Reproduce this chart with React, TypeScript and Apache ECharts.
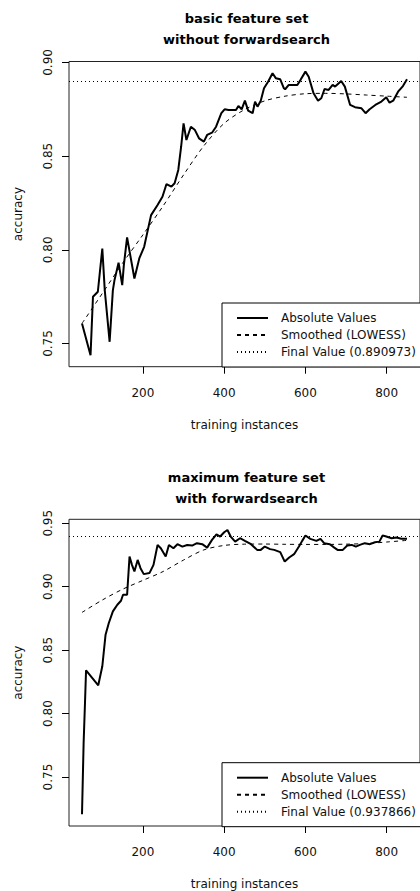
import React, { useEffect, useRef } from 'react';
import * as echarts from 'echarts';

const FONT = 'DejaVu Sans';
const TITLE_TOP = ['basic feature set', 'without forwardsearch'];
const TITLE_BOTTOM = ['maximum feature set', 'with forwardsearch'];
const X_NAME = 'training instances';
const Y_NAME = 'accuracy';
const X_TICKS = [200, 400, 600, 800];
const Y_TICKS_TOP = [0.75, 0.8, 0.85, 0.9];
const Y_TICKS_BOTTOM = [0.75, 0.8, 0.85, 0.9, 0.95];

// top panel: basic feature set without forwardsearch
const TOP_X = [50, 71, 77, 89, 100, 106, 118, 126, 130, 140, 145, 149, 153, 161, 179, 191, 203, 220, 236, 248, 258, 270, 278, 287, 294, 300, 307, 318, 328, 338, 350, 358, 370, 380, 393, 401, 411, 429, 435, 443, 451, 459, 470, 476, 482, 490, 498, 508, 519, 527, 538, 547, 550, 559, 580, 588, 600, 608, 620, 631, 639, 647, 657, 667, 673, 680, 688, 697, 710, 722, 738, 748, 758, 772, 787, 799, 807, 816, 828, 840, 850];
const TOP_Y = [0.7607, 0.7437, 0.7749, 0.7776, 0.8007, 0.7785, 0.7509, 0.7785, 0.7838, 0.7931, 0.7865, 0.7811, 0.7918, 0.8066, 0.7847, 0.7954, 0.8016, 0.8185, 0.8239, 0.8283, 0.8351, 0.8337, 0.8355, 0.8426, 0.855, 0.8675, 0.8586, 0.8657, 0.8639, 0.8595, 0.8577, 0.8613, 0.8625, 0.8657, 0.8729, 0.875, 0.8746, 0.8746, 0.8768, 0.875, 0.8796, 0.8743, 0.8729, 0.8791, 0.8764, 0.8796, 0.8862, 0.8897, 0.8942, 0.8916, 0.891, 0.8862, 0.8857, 0.888, 0.888, 0.8907, 0.8951, 0.8924, 0.8835, 0.8796, 0.8809, 0.8858, 0.8853, 0.888, 0.8871, 0.8885, 0.8901, 0.8871, 0.8773, 0.8761, 0.8755, 0.8729, 0.875, 0.8773, 0.8791, 0.8814, 0.8785, 0.8796, 0.8844, 0.8874, 0.890973];
const SMOOTH_X = [50, 100, 150, 200, 250, 300, 350, 400, 450, 500, 550, 600, 650, 700, 750, 800, 850];
const TOP_SMOOTH_Y = [0.7607, 0.7767, 0.7929, 0.808, 0.8235, 0.84, 0.8555, 0.8675, 0.8748, 0.8795, 0.882, 0.8833, 0.8835, 0.8832, 0.8826, 0.882, 0.8814];
const TOP_FINAL = 0.890973;

// bottom panel: maximum feature set with forwardsearch
const BOT_X = [50, 54, 57, 60, 90, 100, 108, 116, 126, 137, 146, 151, 161, 167, 173, 179, 187, 194, 202, 216, 226, 236, 244, 256, 264, 275, 285, 297, 309, 321, 333, 346, 358, 370, 381, 390, 400, 408, 416, 427, 439, 451, 466, 481, 490, 500, 513, 523, 538, 549, 560, 572, 584, 592, 600, 612, 627, 637, 646, 660, 671, 679, 692, 703, 714, 724, 734, 746, 759, 771, 782, 790, 799, 812, 824, 836, 850];
const BOT_Y = [0.7207, 0.777, 0.805, 0.8341, 0.8223, 0.8373, 0.8622, 0.8714, 0.8805, 0.8858, 0.8889, 0.8936, 0.8936, 0.9237, 0.9172, 0.912, 0.9211, 0.9146, 0.9099, 0.9107, 0.9172, 0.9329, 0.9303, 0.9237, 0.9329, 0.9303, 0.9335, 0.9316, 0.9329, 0.9324, 0.9343, 0.9335, 0.9308, 0.9369, 0.9413, 0.9395, 0.9429, 0.9447, 0.9395, 0.9355, 0.9382, 0.9361, 0.9335, 0.929, 0.929, 0.9316, 0.9296, 0.929, 0.9272, 0.9198, 0.923, 0.9256, 0.9316, 0.9361, 0.9403, 0.9377, 0.9361, 0.9377, 0.9343, 0.9335, 0.9308, 0.929, 0.929, 0.9324, 0.9329, 0.9316, 0.9329, 0.9343, 0.9335, 0.935, 0.9355, 0.9403, 0.9395, 0.9382, 0.9387, 0.9377, 0.937866];
const BOT_SMOOTH_Y = [0.8797, 0.8895, 0.898, 0.905, 0.912, 0.921, 0.929, 0.9325, 0.9335, 0.9336, 0.9334, 0.9333, 0.9333, 0.9335, 0.934, 0.9352, 0.9365];
const BOT_FINAL = 0.937866;

const X_RANGE = [18, 882];
const Y_RANGE_TOP = [0.7376, 0.9005];
const Y_RANGE_BOTTOM = [0.7114, 0.9531];

const NAME_ABS = 'Absolute Values';
const NAME_SMOOTH = 'Smoothed (LOWESS)';
const finalName = (v: number) => `Final Value (${v})`;

const zip = (xs: number[], ys: number[]) => xs.map((x, i) => [x, ys[i]]);

export default function App() {
  const ref = useRef<HTMLDivElement>(null);
  useEffect(() => {
    const chart = echarts.init(ref.current!, null, { renderer: 'svg' });
    const grids = [
      { left: 69, top: 61.5, width: 355, height: 305.2 },
      { left: 69, top: 519.3, width: 355, height: 307.4 },
    ];
    const xAxis = [0, 1].map((i) => ({
      type: 'value',
      gridIndex: i,
      min: X_RANGE[0],
      max: X_RANGE[1],
      axisLine: { show: false },
      splitLine: { show: false },
      axisTick: { show: true, length: 7, customValues: X_TICKS, lineStyle: { color: '#000', width: 1 } },
      axisLabel: { customValues: X_TICKS, margin: 20, fontFamily: FONT, fontSize: 12, color: '#111' },
      name: X_NAME,
      nameLocation: 'middle',
      nameGap: 52,
      nameTextStyle: { fontFamily: FONT, fontSize: 12, color: '#111' },
    }));
    const yAxis = [
      [Y_RANGE_TOP, Y_TICKS_TOP],
      [Y_RANGE_BOTTOM, Y_TICKS_BOTTOM],
    ].map(([range, ticks], i) => ({
      type: 'value',
      gridIndex: i,
      min: range[0],
      max: range[1],
      axisLine: { show: false },
      splitLine: { show: false },
      axisTick: { show: true, length: 7, customValues: ticks, lineStyle: { color: '#000', width: 1 } },
      axisLabel: {
        customValues: ticks,
        rotate: 90,
        margin: 15,
        formatter: (v: number) => v.toFixed(2),
        fontFamily: FONT,
        fontSize: 12,
        color: '#111',
      },
      name: Y_NAME,
      nameLocation: 'middle',
      nameGap: 45,
      nameTextStyle: { fontFamily: FONT, fontSize: 12, color: '#111' },
    }));
    const panels = [
      { x: TOP_X, y: TOP_Y, s: TOP_SMOOTH_Y, f: TOP_FINAL },
      { x: BOT_X, y: BOT_Y, s: BOT_SMOOTH_Y, f: BOT_FINAL },
    ];
    const series: any[] = [];
    panels.forEach((p, i) => {
      series.push({
        type: 'line',
        name: NAME_ABS,
        xAxisIndex: i,
        yAxisIndex: i,
        data: zip(p.x, p.y),
        symbol: 'none',
        lineStyle: { color: '#000', width: 2 },
        itemStyle: { color: '#000' },
      });
      series.push({
        type: 'line',
        name: NAME_SMOOTH,
        xAxisIndex: i,
        yAxisIndex: i,
        data: zip(SMOOTH_X, p.s),
        symbol: 'none',
        smooth: 0.3,
        lineStyle: { color: '#000', width: 1, type: [4, 4] },
        itemStyle: { color: '#000' },
      });
      series.push({
        type: 'line',
        name: finalName(p.f),
        xAxisIndex: i,
        yAxisIndex: i,
        data: [],
        symbol: 'none',
        lineStyle: { color: '#000', width: 1, type: [1, 3] },
        itemStyle: { color: '#000' },
        markLine: {
          silent: true,
          symbol: ['none', 'none'],
          label: { show: false },
          lineStyle: { color: '#000', width: 1, type: [1, 3] },
          data: [{ yAxis: p.f }],
        },
      });
    });
    const legendBase = {
      orient: 'vertical',
      left: 222,
      itemWidth: 31,
      itemHeight: 12,
      itemGap: 5,
      padding: [9, 24, 9, 14],
      borderColor: '#000',
      borderWidth: 1,
      borderRadius: 0,
      backgroundColor: '#fff',
      itemStyle: { opacity: 0 },
      textStyle: { fontFamily: FONT, fontSize: 12, color: '#111', padding: [0, 0, 0, 8] },
      selectedMode: false,
    };
    const legend = [
      { ...legendBase, top: 303, data: [NAME_ABS, NAME_SMOOTH, finalName(TOP_FINAL)] },
      { ...legendBase, top: 762.7, data: [NAME_ABS, NAME_SMOOTH, finalName(BOT_FINAL)] },
    ];
    const titleFont = `bold 13px "${FONT}"`;
    const titleText = (text: string, y: number) => ({
      type: 'text',
      x: 246.5,
      y,
      style: { text, font: titleFont, fill: '#000', align: 'center', verticalAlign: 'middle' },
    });
    chart.setOption({
      animation: false,
      backgroundColor: '#fff',
      grid: grids.map((g) => ({ ...g, show: true, borderColor: '#222', borderWidth: 1, backgroundColor: 'transparent' })),
      xAxis,
      yAxis,
      series,
      legend,
      graphic: [
        titleText(TITLE_TOP[0], 18),
        titleText(TITLE_TOP[1], 39),
        titleText(TITLE_BOTTOM[0], 477.3),
        titleText(TITLE_BOTTOM[1], 498.3),
      ],
    });
    return () => chart.dispose();
  }, []);
  return <div ref={ref} style={{ position: 'absolute', left: 0, top: 0, width: 420, height: 891 }} />;
}
